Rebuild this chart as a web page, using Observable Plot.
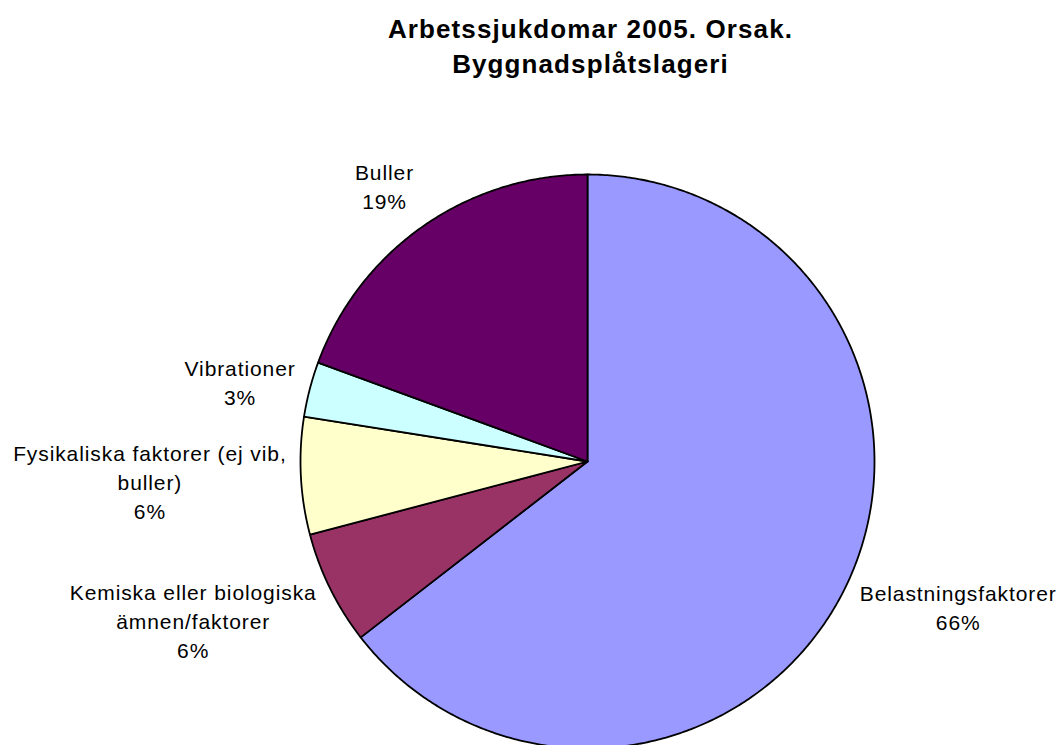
<!DOCTYPE html>
<html><head><meta charset="utf-8">
<script src="https://cdn.jsdelivr.net/npm/d3@7"></script>
<script src="https://cdn.jsdelivr.net/npm/@observablehq/plot@0.6"></script>
<style>
html,body{margin:0;padding:0;background:#fff;overflow:hidden;}
#title{height:95px;box-sizing:border-box;padding-top:11.5px;padding-left:120px;width:1061px;text-align:center;font-family:"Liberation Sans",Arial,sans-serif;font-weight:bold;font-size:26px;line-height:35px;letter-spacing:1.1px;color:#000;}
</style></head><body>
<div id="title">Arbetssjukdomar 2005. Orsak.<br>Byggnadsplåtslageri</div>
<div id="chart"></div>
<script>
// ---- data ----
const categories = ["Belastningsfaktorer", "Kemiska eller biologiska\nämnen/faktorer", "Fysikaliska faktorer (ej vib,\nbuller)", "Vibrationer", "Buller"];
const values = [64.5, 6.4, 6.6, 3.1, 19.4];
const percentLabels = ["66%", "6%", "6%", "3%", "19%"];
const colors = ["#9999FF", "#993366", "#FFFFCC", "#CCFFFF", "#660066"];

// ---- layout ----
const W = 1061, H = 650, cx = 587, cy = 366, R = 287;
const labelGap = 10;
const labelOffsets = [[104, 14], [-128, 27], [-141, 4.5], [-60, -5.6], [-33, -32.5]];

const pie = d3.pie().sort(null).value(d => d)(values);
const slicePts = [];
pie.forEach((p, i) => {
  const key = categories[i];
  slicePts.push({key, x: 0, y: 0});
  const n = Math.max(2, Math.ceil((p.endAngle - p.startAngle) / (Math.PI / 360)));
  for (let j = 0; j <= n; j++) {
    const a = p.startAngle + (p.endAngle - p.startAngle) * j / n;
    slicePts.push({key, x: Math.sin(a), y: Math.cos(a)});
  }
  slicePts.push({key, x: 0, y: 0});
});

const k = 1 + labelGap / R;
const labels = pie.map((p, i) => {
  const mid = (p.startAngle + p.endAngle) / 2;
  return {
    text: categories[i] + "\n" + percentLabels[i],
    x: Math.sin(mid) * k + labelOffsets[i][0] / R,
    y: Math.cos(mid) * k - labelOffsets[i][1] / R
  };
});

const chart = Plot.plot({
  width: W,
  height: H,
  margin: 0,
  style: {background: "white", fontFamily: "'Liberation Sans', Arial, sans-serif", letterSpacing: "0.9px", overflow: "hidden"},
  x: {domain: [-1, 1], range: [cx - R, cx + R], axis: null},
  y: {domain: [-1, 1], range: [cy + R, cy - R], axis: null},
  color: {domain: categories, range: colors},
  marks: [
    Plot.line(slicePts, {x: "x", y: "y", z: "key", fill: "key", stroke: "black", strokeWidth: 1.8, strokeLinejoin: "round"}),
    Plot.text(labels, {x: "x", y: "y", text: "text", fontSize: 21, lineHeight: 29 / 21, textAnchor: "middle", lineAnchor: "middle", fill: "black", fontFamily: "'Liberation Sans', Arial, sans-serif"})
  ]
});
document.getElementById("chart").appendChild(chart);
</script>
</body></html>
